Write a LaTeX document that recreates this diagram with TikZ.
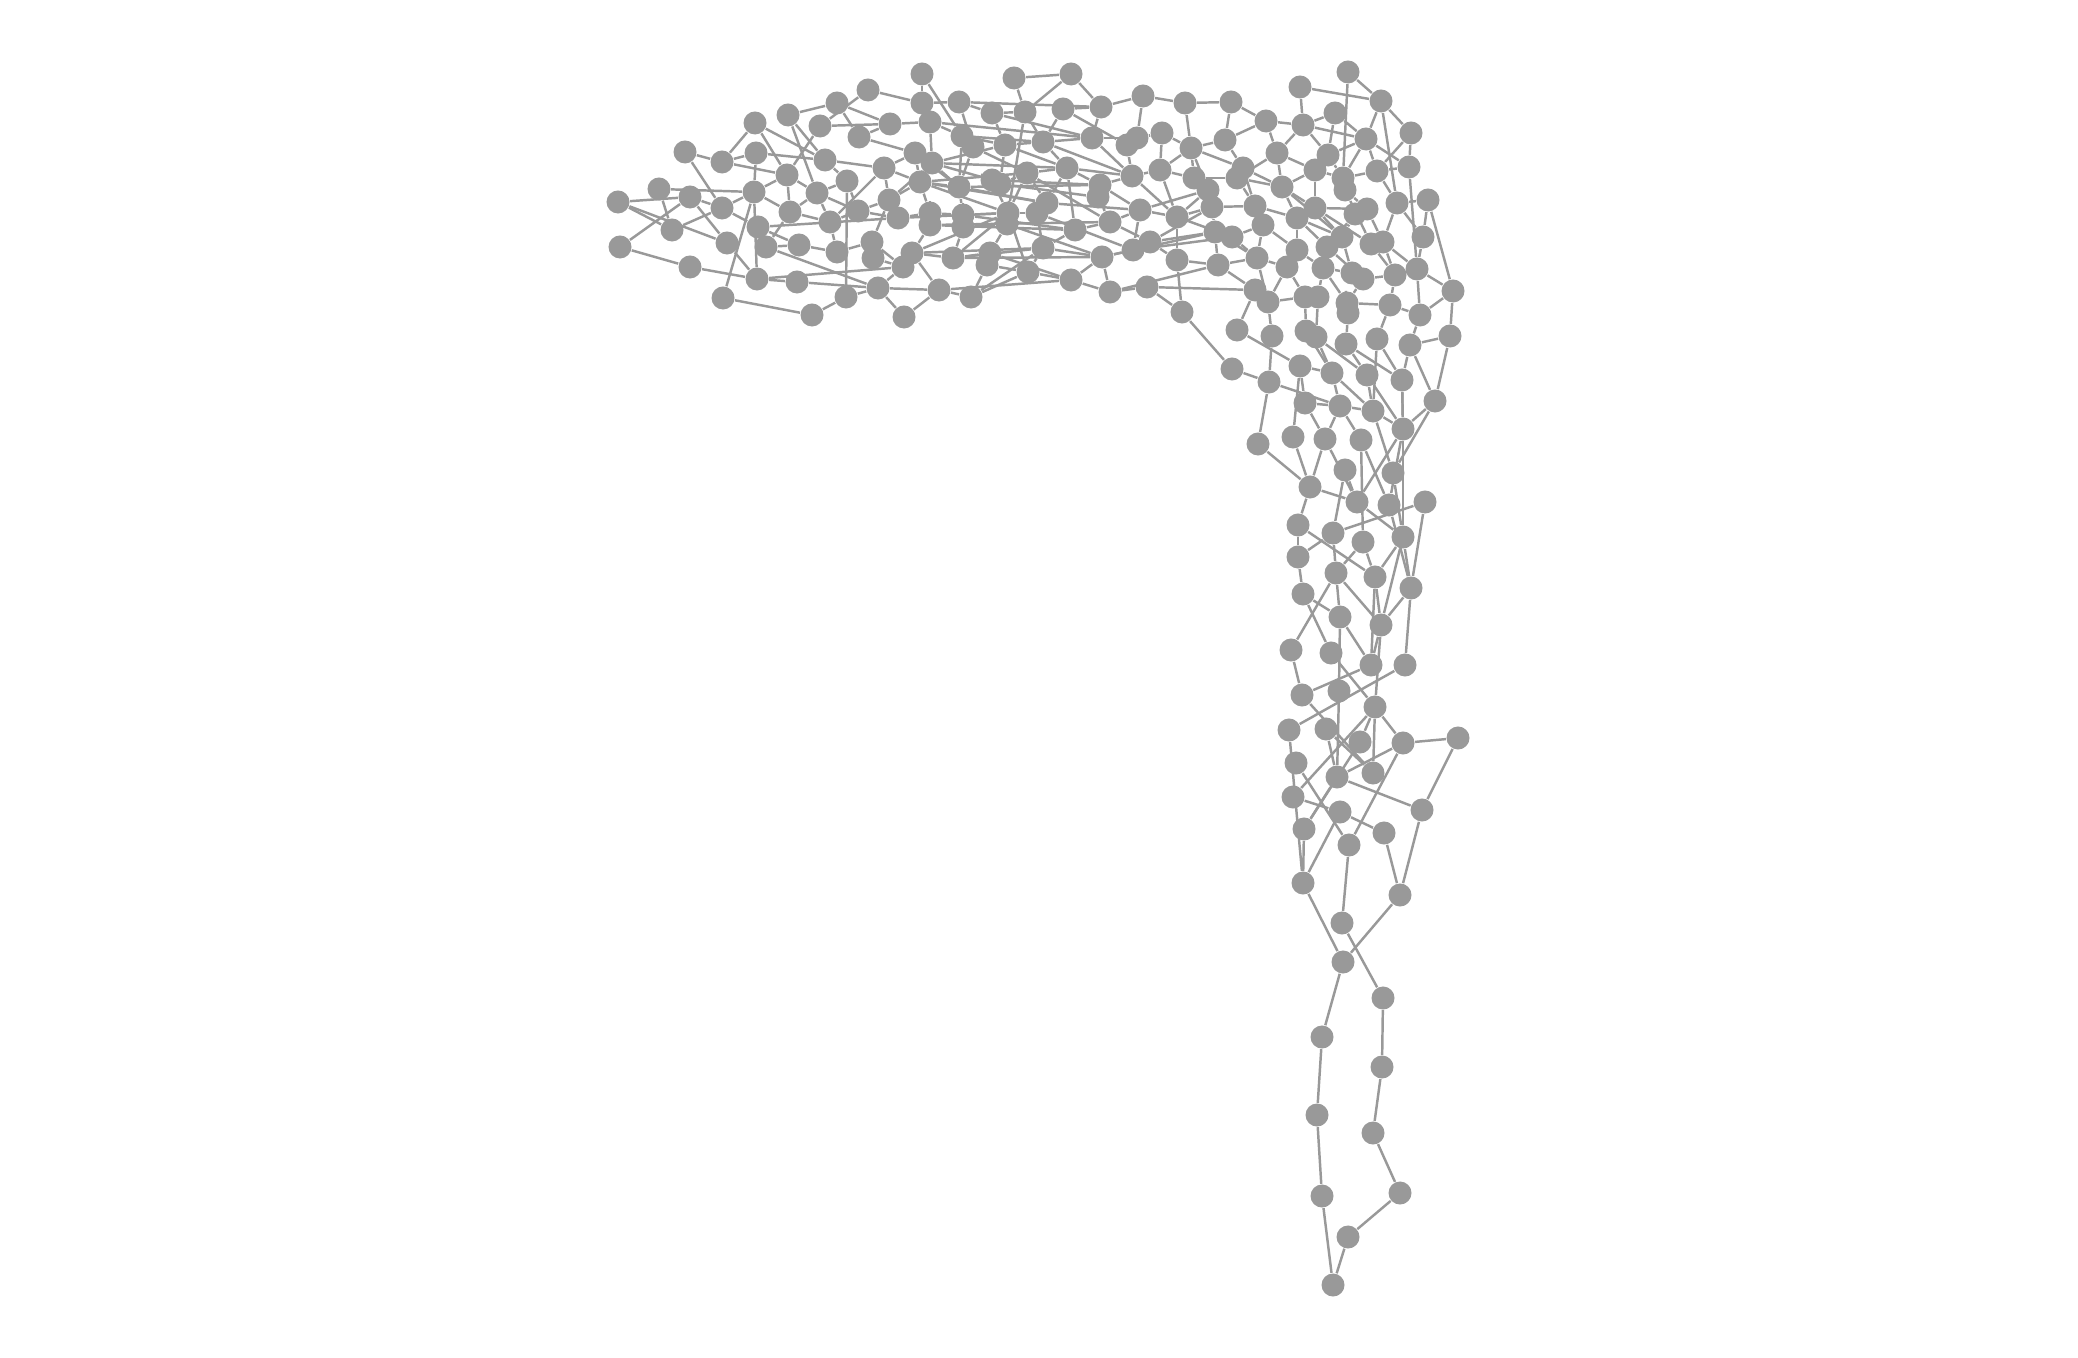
\documentclass[tikz,border=0pt]{standalone}
\usepackage{tikz}
\usetikzlibrary{backgrounds}
\definecolor{vgray}{HTML}{999999}

\begin{document}
\begin{tikzpicture}[x=0.01cm,y=-0.01cm,
  vtx/.style={circle,fill=vgray,inner sep=0pt,minimum size=0.23cm},
  edge/.style={draw=vgray,line width=0.7pt}]
\useasboundingbox (0,0) rectangle (2078,1358);
% vertices, top band
\foreach \n/\x/\y in {1/868/90,2/837/103,3/820/126,4/788/115,5/755/123,6/890/124,7/859/137,8/685/152,
  9/722/162,10/756/153,11/825/160,12/884/168,13/787/175,14/847/181,15/659/189,16/690/197,17/754/192,
  18/817/193,19/889/200,20/618/202,21/722/208,22/790/212,23/858/211,24/830/222,25/898/218,26/758/227,
  27/672/230,28/620/247,29/727/243,30/766/247,31/799/245,32/872/242,33/837/252,34/873/258,35/690/267,
  36/757/279,37/797/282,38/903/267,39/878/288,40/846/297,41/723/298,42/812/315,43/904/317,
  44/922/74,45/1014/78,46/1071/74,47/922/103,48/959/102,49/992/113,50/1025/112,51/1063/109,52/1101/107,
  53/1143/96,54/930/122,55/962/136,56/973/147,57/1005/145,58/1043/142,59/1092/138,60/1127/145,
  61/1137/138,62/1162/133,63/915/153,64/932/163,65/920/182,66/959/187,67/992/180,68/1000/184,
  69/1027/173,70/1067/168,71/1100/185,72/1098/197,73/1132/176,74/1160/170,75/930/213,76/930/225,
  77/963/215,78/963/227,79/1008/213,80/1007/224,81/1037/213,82/1047/203,83/1075/230,84/1110/222,
  85/1140/210,86/1177/217,87/912/253,88/953/258,89/990/253,90/987/265,91/1043/248,92/1102/257,
  93/1133/250,94/1150/242,95/1177/260,96/939/290,97/971/297,98/1028/272,99/1071/280,100/1110/292,
  101/1147/287,102/1182/312}
  \node[vtx] (v\n) at (\x,\y) {};
% vertices, corner
\foreach \n/\x/\y in {103/1348/72,104/1300/87,105/1381/101,106/1185/103,107/1231/102,108/1266/121,
  109/1303/125,110/1335/113,111/1411/133,113/1191/148,114/1225/140,115/1277/153,116/1366/139,
  117/1328/155,118/1409/167,119/1194/178,120/1243/168,121/1237/178,122/1315/170,123/1343/178,
  124/1377/171,125/1208/190,126/1282/187,127/1345/190,128/1428/200,129/1397/203,130/1212/207,
  131/1255/206,132/1315/208,133/1367/209,134/1355/214,136/1263/225,137/1297/218,138/1215/232,
  139/1232/237,140/1342/237,141/1383/242,142/1371/244,143/1423/237,144/1327/247,146/1218/265,
  147/1257/258,148/1297/250,149/1287/267,150/1323/268,151/1352/273,152/1363/279,153/1395/275,
  154/1417/269,155/1453/291,156/1255/290,157/1268/302,158/1305/297,159/1318/297,160/1347/303,
  161/1348/313,162/1390/305,163/1420/315,165/1237/330,166/1272/336,167/1306/331,168/1316/337,
  169/1346/344,170/1377/339,171/1410/345,172/1450/336}
  \node[vtx] (v\n) at (\x,\y) {};
% vertices, stem
\foreach \n/\x/\y in {173/1232/369,174/1269/382,175/1300/366,176/1332/373,177/1367/375,178/1402/380,
  179/1305/403,180/1340/406,181/1373/411,182/1435/401,183/1403/429,184/1258/444,185/1293/437,
  186/1325/439,187/1361/440,188/1345/470,189/1393/473,190/1310/487,191/1357/502,192/1389/505,
  193/1425/502,194/1298/525,195/1333/533,196/1363/542,197/1403/537,198/1298/557,199/1336/573,
  200/1375/577,201/1411/588,202/1303/594,203/1340/617,204/1381/625,205/1291/650,206/1331/653,
  207/1371/665,208/1405/665,209/1302/695,210/1339/691,211/1375/707,212/1289/730,213/1326/729,
  214/1360/742,215/1403/743,216/1458/738,217/1296/763,218/1337/777,219/1373/773,220/1293/797,
  221/1340/812,222/1422/810,223/1304/829,224/1384/833,225/1349/845,226/1303/883,227/1400/895,
  228/1342/923,229/1343/962,230/1383/998,231/1322/1037,232/1382/1067,233/1317/1115,234/1373/1133,
  235/1322/1196,236/1400/1193,237/1348/1237,238/1333/1285}
  \node[vtx] (v\n) at (\x,\y) {};
% links
\begin{scope}[on background layer]
\foreach \a/\b in {1/3,1/47,2/7,2/4,3/13,3/6,4/18,4/11,5/11,5/13,8/21,9/13,9/10,10/11,10/17,11/12,
  11/14,14/40,14/18,15/17,15/27,20/27,20/29,28/16,28/35,35/36,36/37,37/39,41/42,42/40,41/17,17/36,
  17/13,17/21,21/26,16/29,29/36,26/31,30/39,18/24,24/33,31/33,33/32,23/19,39/43,40/39,36/38,26/25,
  22/18,27/21,22/30,32/34,34/38,7/63,6/7,12/19,24/23,13/22,16/21,13/18,18/23,22/24,24/12,32/19,
  30/31,14/23,17/22,20/16,8/9,9/5,2/6,
  6/54,12/63,12/65,19/65,25/75,38/87,39/96,43/96,19/25,23/25,32/38,38/39,
  44/55,44/47,45/46,45/50,46/52,46/50,47/48,47/54,48/56,48/49,49/50,49/57,50/79,50/58,51/58,51/60,
  51/52,52/53,52/59,53/106,53/61,54/64,54/55,55/56,55/57,56/66,57/58,57/68,58/70,58/59,59/73,60/61,
  60/73,61/62,62/74,63/64,63/65,64/67,64/66,65/75,65/66,66/77,67/68,67/79,68/69,69/70,69/82,70/71,
  70/83,71/72,71/73,72/84,73/74,74/86,75/76,75/77,76/87,77/78,78/80,78/88,79/80,79/81,80/89,81/82,
  81/91,82/70,83/84,83/91,84/85,85/86,85/93,86/95,87/88,87/96,88/89,89/90,90/97,90/98,91/98,91/92,
  92/93,92/99,93/94,94/95,95/102,96/97,97/98,98/99,99/100,100/101,101/102,100/92,
  65/69,66/71,76/84,88/92,54/59,64/70,79/65,79/25,79/87,79/88,79/69,79/98,79/77,55/66,
  65/82,66/82,67/71,76/83,77/83,87/91,88/91,89/99,96/99,97/91,55/58,56/69,57/70,48/52,49/59,
  64/57,68/72,69/84,80/92,81/93,82/85,84/94,71/85,73/86,59/61,58/73,70/73,63/66,19/64}
  \draw[edge] (v\a) -- (v\b);
\foreach \a/\b in {103/105,103/123,104/105,104/109,105/111,105/129,105/116,106/107,107/108,108/109,
  109/110,109/116,110/117,111/124,62/113,113/114,114/108,113/119,113/125,115/121,115/126,115/109,
  117/122,118/154,118/124,119/121,119/130,120/126,121/131,122/126,122/132,123/127,123/124,127/133,
  124/129,125/130,126/137,128/129,128/143,128/155,129/141,130/138,131/136,132/137,132/140,133/134,
  133/141,134/140,136/147,137/148,138/139,138/146,139/147,140/144,140/151,141/142,141/153,143/154,
  144/150,146/156,147/149,148/149,148/150,150/151,150/159,151/152,152/160,152/153,153/154,153/162,
  154/163,155/163,155/172,156/157,156/165,157/158,157/166,158/159,158/167,159/168,160/161,160/162,
  161/169,162/170,162/163,163/171,171/172,101/156,102/173,86/139,61/62,74/113,86/130,86/125,95/146,
  94/138,116/123,111/118,117/116,
  106/113,107/114,108/115,109/117,110/116,113/120,114/120,115/122,119/125,120/131,121/126,126/132,
  130/131,131/137,136/148,137/144,138/147,139/136,146/147,147/157,149/158,150/160,144/152,122/123,
  117/123,126/140,132/133,132/142,137/140,74/119,85/125,94/130,93/139,100/146,92/138,154/155,
  129/143,116/118,124/116,127/142,134/144,142/153,141/154,149/157}
  \draw[edge] (v\a) -- (v\b);
\foreach \a/\b in {166/174,173/174,174/184,184/190,174/180,175/185,185/190,186/190,190/194,190/191,
  188/195,191/197,193/195,193/201,183/182,183/192,183/191,183/197,183/178,181/189,180/181,181/183,
  180/186,187/192,198/195,194/200,199/204,200/204,201/204,202/206,199/205,203/207,204/207,197/204,
  201/197,196/199,194/198,198/202,202/203,167/176,168/177,169/177,169/178,170/178,170/181,171/182,
  172/182,175/176,176/180,177/181,179/180,175/179,178/183,188/191,
  176/181,177/183,179/186,180/187,182/189,186/191,187/196,189/197,192/201,195/199,196/200,
  197/200,199/203,200/207,165/175,168/176,171/178,
  205/209,209/207,212/208,206/211,209/219,210/218,211/219,211/215,211/220,215/216,216/222,222/227,
  227/224,224/221,218/222,218/215,218/223,217/225,220/221,223/226,212/226,225/215,226/221,213/219,
  228/225,229/226,229/227,228/230,201/208,210/203,204/211,214/223,214/211,213/218,
  229/231,231/233,233/235,235/238,238/237,237/236,236/234,234/232,232/230}
  \draw[edge] (v\a) -- (v\b);
\end{scope}
\end{tikzpicture}
\end{document}
